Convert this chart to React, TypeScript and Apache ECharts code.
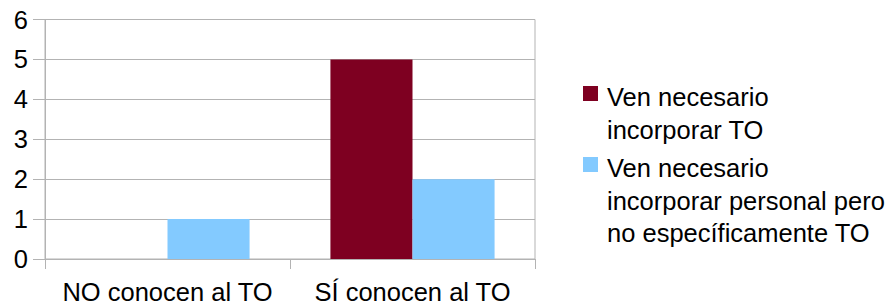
import React, { useEffect, useRef } from "react";
import * as echarts from "echarts";

const categories = ["NO conocen al TO", "SÍ conocen al TO"];
const seriesNames = ["Ven necesario incorporar TO", "Ven necesario incorporar personal pero no específicamente TO"];
const legendLines = [
  ["Ven necesario", "incorporar TO"],
  ["Ven necesario", "incorporar personal pero", "no específicamente TO"],
];
const incorporarTO = [0, 5];
const incorporarPersonal = [1, 2];
const colors = ["#7E0021", "#83CAFF"];
const yTicks = [0, 1, 2, 3, 4, 5, 6];

const FONT = "'Liberation Sans', Arial, sans-serif";
const FS = 25.5;

export default function App() {
  const ref = useRef<HTMLDivElement>(null);
  useEffect(() => {
    document.body.style.margin = "0";
    const chart = echarts.init(ref.current!, null, { renderer: "svg" });
    const legendTops = [81, 152];
    const graphic: any[] = [];
    legendLines.forEach((lines, i) => {
      graphic.push({
        type: "rect",
        left: 583,
        top: legendTops[i] + 5,
        shape: { width: 15, height: 15 },
        style: { fill: colors[i] },
      });
      graphic.push({
        type: "text",
        left: 607,
        top: legendTops[i],
        style: {
          text: lines.join("\n"),
          font: `${FS}px ${FONT}`,
          lineHeight: 32.5,
          fill: "#000",
        },
      });
    });
    chart.setOption({
      animation: false,
      textStyle: { fontFamily: FONT },
      grid: {
        left: 45,
        right: 354,
        top: 19.5,
        bottom: 49,
        show: true,
        borderColor: "#b3b3b3",
        borderWidth: 1,
        backgroundColor: "transparent",
      },
      xAxis: {
        type: "category",
        data: categories,
        axisLine: { lineStyle: { color: "#b3b3b3", width: 1 } },
        axisTick: { show: true, length: 10, lineStyle: { color: "#b3b3b3" } },
        axisLabel: { color: "#000", fontSize: FS, margin: 20, fontFamily: FONT, interval: 0 },
        splitLine: { show: false },
      },
      yAxis: {
        type: "value",
        min: yTicks[0],
        max: yTicks[yTicks.length - 1],
        interval: 1,
        axisLine: { show: true, lineStyle: { color: "#b3b3b3", width: 1 } },
        axisTick: { show: true, length: 12, lineStyle: { color: "#b3b3b3" } },
        axisLabel: { color: "#000", fontSize: FS, margin: 17, fontFamily: FONT },
        splitLine: { show: true, lineStyle: { color: "#b3b3b3", width: 1 } },
      },
      graphic,
      series: [
        {
          name: seriesNames[0],
          type: "bar",
          data: incorporarTO,
          itemStyle: { color: colors[0] },
          barGap: "0%",
          barCategoryGap: "33%",
        },
        {
          name: seriesNames[1],
          type: "bar",
          data: incorporarPersonal,
          itemStyle: { color: colors[1] },
          barGap: "0%",
          barCategoryGap: "33%",
        },
      ],
    });
    return () => chart.dispose();
  }, []);
  return (
    <div
      ref={ref}
      style={{ position: "fixed", left: 0, top: 0, width: 889, height: 308, background: "#fff" }}
    />
  );
}
